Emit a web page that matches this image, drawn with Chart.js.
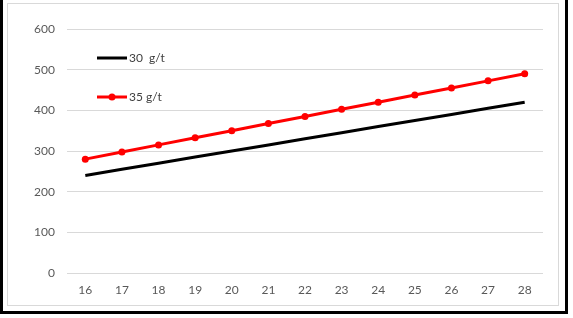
<!DOCTYPE html>
<html>
<head>
<meta charset="utf-8">
<script src="https://cdn.jsdelivr.net/npm/chart.js@4.4.0/dist/chart.umd.min.js"></script>
<style>
  html, body { margin: 0; padding: 0; background: #fff; }
  #wrap { position: relative; width: 573px; height: 318px; overflow: hidden; }
  #wrap canvas { position: absolute; left: 0; top: 0; }
  .edge { position: absolute; background: #000; }
  #inner { position: absolute; left: 7px; top: 3px; width: 550px; height: 301px; border: 1px solid #d9d9d9; }
</style>
</head>
<body>
<div id="wrap">
  <div id="inner"></div>
  <canvas id="myChart" width="573" height="318"></canvas>
  <div class="edge" style="left:0;top:0;width:3px;height:314px"></div>
  <div class="edge" style="left:565px;top:0;width:3px;height:314px"></div>
  <div class="edge" style="left:0;top:311px;width:568px;height:3px"></div>
</div>
<script>
var labels = ["16", "17", "18", "19", "20", "21", "22", "23", "24", "25", "26", "27", "28"];
var data30 = [240, 255, 270, 285, 300, 315, 330, 345, 360, 375, 390, 405, 420];
var data35 = [280, 297.5, 315, 332.5, 350, 367.5, 385, 402.5, 420, 437.5, 455, 472.5, 490];
var yTicks = [0, 100, 200, 300, 400, 500, 600];

var fontFamily = "Lato, 'Open Sans', sans-serif";

// legend drawn inside the plot, top left, one entry per row
var insideLegend = {
    id: 'insideLegend',
    afterDraw: function (chart) {
        var ctx = chart.ctx;
        var x0 = 97, x1 = 127, rows = [58, 97];
        ctx.save();
        chart.data.datasets.forEach(function (ds, i) {
            var y = rows[i];
            ctx.strokeStyle = ds.borderColor;
            ctx.lineWidth = ds.borderWidth;
            ctx.beginPath();
            ctx.moveTo(x0, y);
            ctx.lineTo(x1, y);
            ctx.stroke();
            if (ds.pointRadius > 0) {
                ctx.fillStyle = ds.pointBackgroundColor;
                ctx.beginPath();
                ctx.arc((x0 + x1) / 2, y, ds.pointRadius, 0, Math.PI * 2);
                ctx.fill();
            }
            ctx.fillStyle = '#404040';
            ctx.font = '12px ' + fontFamily;
            ctx.textBaseline = 'middle';
            ctx.textAlign = 'left';
            ctx.fillText(ds.label, x1 + 2, y);
        });
        ctx.restore();
    }
};

var ctx = document.getElementById("myChart").getContext('2d');
var myChart = new Chart(ctx, {
    type: 'line',
    data: {
        labels: labels,
        datasets: [{
            label: '30  g/t',
            data: data30,
            borderColor: '#000000',
            backgroundColor: '#000000',
            borderWidth: 3,
            pointRadius: 0,
            tension: 0
        },
        {
            label: '35 g/t',
            data: data35,
            borderColor: '#ff0000',
            backgroundColor: '#ff0000',
            pointBackgroundColor: '#ff0000',
            pointBorderColor: '#ff0000',
            borderWidth: 3,
            pointRadius: 3.5,
            pointBorderWidth: 0,
            tension: 0
        }]
    },
    options: {
        responsive: false,
        animation: false,
        layout: { padding: { left: 10, right: 30, top: 29, bottom: 15 } },
        plugins: {
            legend: { display: false },
            tooltip: { enabled: false }
        },
        scales: {
            x: {
                offset: true,
                grid: { display: false, drawTicks: false },
                border: { display: false },
                ticks: { color: '#595959', padding: 10, font: { family: fontFamily, size: 12 } },
                afterFit: function (scale) { scale.height = 30; }
            },
            y: {
                min: 0,
                max: 600,
                afterBuildTicks: function (scale) {
                    scale.ticks = yTicks.map(function (v) { return { value: v }; });
                },
                grid: { color: '#d9d9d9', lineWidth: 1, drawTicks: false },
                border: { display: false },
                ticks: { color: '#595959', padding: 12, font: { family: fontFamily, size: 12 } },
                afterFit: function (scale) { scale.width = 57; }
            }
        }
    },
    plugins: [insideLegend]
});
</script>
</body>
</html>
